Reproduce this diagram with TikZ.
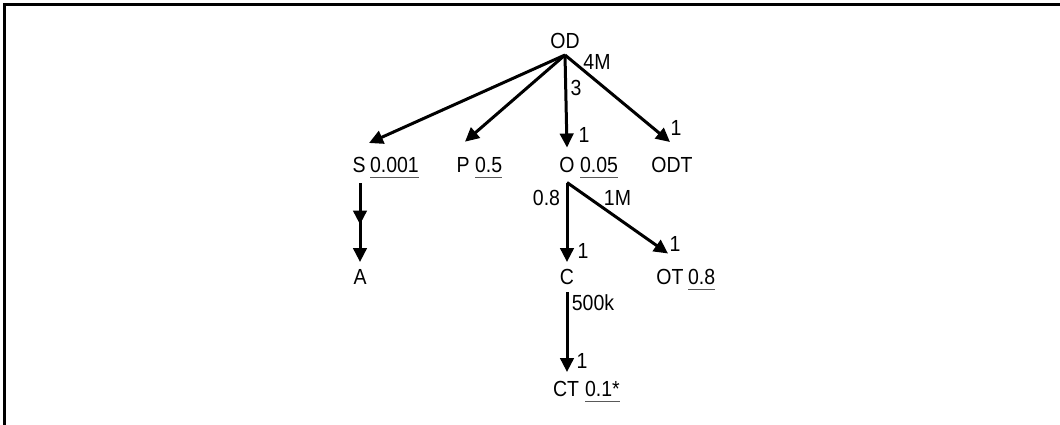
\documentclass[tikz,border=0pt]{standalone}
\usepackage{fontspec}
\setmainfont{Liberation Sans}
\usepackage{graphicx}
\usetikzlibrary{arrows.meta,decorations.markings}
\definecolor{ulgray}{gray}{0.35}
\newcommand\vstretch[1]{\scalebox{1}[1.12]{#1}}
\newcommand\ulnum[1]{\setbox0\hbox{#1}\rlap{\color{ulgray}\raisebox{-4.8pt}{\rule{\wd0}{1.4pt}}}\box0}
\begin{document}
\begin{tikzpicture}[x=1pt,y=1pt,
  lbl/.style={inner sep=0pt, outer sep=0pt, text height=15.6pt, text depth=0pt,
    font=\fontsize{19.5}{22}\selectfont, execute at begin node=\setbox1\hbox\bgroup, execute at end node=\egroup\vstretch{\box1}},
  arr/.style={line width=3pt, -{Triangle[length=14pt,width=13.5pt]}},
  frame/.style={line width=2.6pt},
]
\useasboundingbox (0,0) rectangle (1060,-425);
\draw[frame] (4.5,-425) -- (4.5,-4.3) -- (1060,-4.3);

% nodes
\node[lbl, outer ysep=6.2pt] (OD) at (565,-41) {OD};
\node[lbl, outer ysep=14.2pt] (S) at (359,-165) {S};
\node[lbl, anchor=west] (Sv) at (370,-165) {\ulnum{0.001}};
\node[lbl, outer ysep=15.5pt] (P) at (463,-165) {P};
\node[lbl, anchor=west] (Pv) at (475,-165) {\ulnum{0.5}};
\node[lbl, outer ysep=9.7pt] (O) at (567,-165) {O};
\node[lbl, anchor=west] (Ov) at (580,-165) {\ulnum{0.05}};
\node[lbl, outer ysep=15.2pt] (ODT) at (672,-165) {ODT};
\node[lbl, outer ysep=7.2pt] (A) at (360,-277) {A};
\node[lbl, outer ysep=7.2pt] (C) at (567,-277) {C};
\node[lbl, outer ysep=15.7pt] (OT) at (670,-277) {OT};
\node[lbl, anchor=west] (OTv) at (688,-277) {\ulnum{0.8}};
\node[lbl, outer ysep=9.2pt] (CT) at (566,-389) {CT};
\node[lbl, anchor=west] (CTv) at (585,-389) {\ulnum{0.1*}};

% edge labels
\node[lbl] (l4M) at (597,-62) {4M};
\node[lbl] (l3) at (576,-88) {3};
\node[lbl] (lO1) at (584,-135) {1};
\node[lbl] (lODT1) at (676,-128) {1};
\node[lbl] (l08) at (546.5,-197.5) {0.8};
\node[lbl] (l1M) at (617.5,-197.5) {1M};
\node[lbl] (lC1) at (583,-251) {1};
\node[lbl] (lOT1) at (675,-244) {1};
\node[lbl] (l500k) at (593,-303) {500k};
\node[lbl] (lCT1) at (582,-361) {1};

% connectors
\draw[arr] (OD.south) -- ([xshift=10pt]S.north);
\draw[arr] (OD.south) -- ([xshift=2pt]P.north);
\draw[arr] (OD.south) -- (O.north);
\draw[arr] (OD.south) -- ([xshift=-2pt]ODT.north);
\draw[arr, shorten <=-4pt, postaction={decorate},
  decoration={markings, mark=at position 0.5 with {\arrow{Triangle[length=14pt,width=13.5pt]}}}]
  ([xshift=1pt]S.south) -- (A.north);
\draw[arr] (O.south) -- (C.north);
\draw[arr] (O.south) -- ([xshift=-2pt]OT.north);
\draw[arr] (C.south) -- ([xshift=1pt]CT.north);
\end{tikzpicture}
\end{document}
